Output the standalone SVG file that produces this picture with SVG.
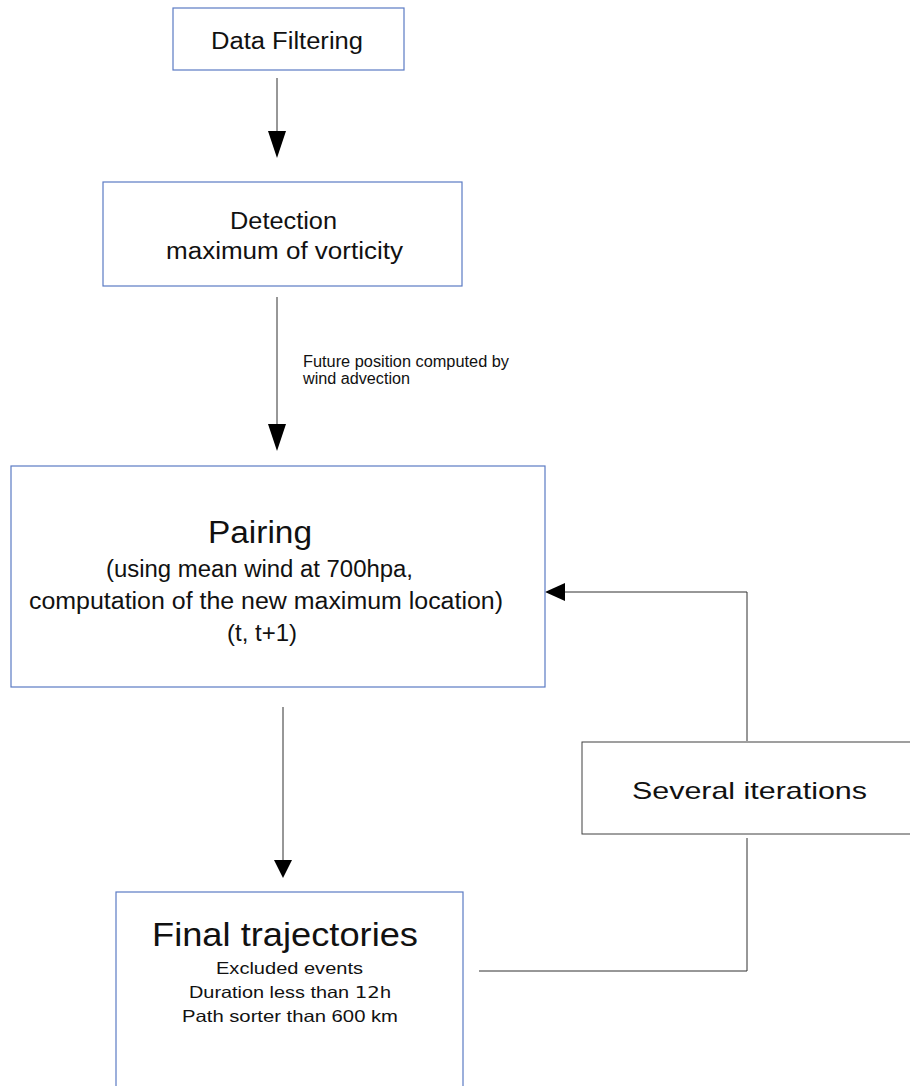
<svg xmlns="http://www.w3.org/2000/svg" width="910" height="1086" viewBox="0 0 910 1086">
<defs>
<style>
.box{fill:#fff;stroke:#5b7bc4;stroke-width:1.2}
.gbox{fill:#fff;stroke:#404040;stroke-width:1}
.t{font-family:"Liberation Sans",Arial,sans-serif;fill:#111}
.c{stroke:#303030;stroke-width:1;fill:none}
</style>
</defs>
<rect width="910" height="1086" fill="#fff"/>
<g id="connectors">
<line class="c" x1="277" y1="78" x2="277" y2="131"/>
<polygon points="268,131 286,131 277,158" fill="#000"/>
<line class="c" x1="277" y1="297" x2="277" y2="424"/>
<polygon points="268,424 286,424 277,451" fill="#000"/>
<text class="t" x="303" y="367" font-size="16" textLength="206" lengthAdjust="spacingAndGlyphs">Future position computed by</text>
<text class="t" x="303" y="384" font-size="16" textLength="107" lengthAdjust="spacingAndGlyphs">wind advection</text>
<polyline class="c" points="747,741 747,592 565,592"/>
<polygon points="565,583 565,601 545,592" fill="#000"/>
<line class="c" x1="283" y1="707" x2="283" y2="860"/>
<polygon points="274,860 292,860 283,878" fill="#000"/>
<polyline class="c" points="747,838 747,971 479,971"/>
</g>
<g id="data-filtering">
<rect class="box" x="173" y="8" width="231" height="62"/>
<text class="t" x="211" y="49" font-size="23" textLength="152" lengthAdjust="spacingAndGlyphs">Data Filtering</text>
</g>
<g id="detection">
<rect class="box" x="103" y="182" width="359" height="104"/>
<text class="t" x="230" y="228.5" font-size="23.3" textLength="107" lengthAdjust="spacingAndGlyphs">Detection</text>
<text class="t" x="166" y="259" font-size="23.5" textLength="237" lengthAdjust="spacingAndGlyphs">maximum of vorticity</text>
</g>
<g id="pairing">
<rect class="box" x="11" y="466" width="534" height="221"/>
<text class="t" x="208" y="543" font-size="31" textLength="104" lengthAdjust="spacingAndGlyphs">Pairing</text>
<text class="t" x="106" y="577" font-size="23.5" textLength="307" lengthAdjust="spacingAndGlyphs">(using mean wind at 700hpa,</text>
<text class="t" x="29" y="609" font-size="23.5" textLength="474" lengthAdjust="spacingAndGlyphs">computation of the new maximum location)</text>
<text class="t" x="227" y="641" font-size="24" textLength="70" lengthAdjust="spacingAndGlyphs">(t, t+1)</text>
</g>
<g id="several-iterations">
<rect class="gbox" x="582" y="742" width="340" height="92"/>
<text class="t" x="632" y="799" font-size="24" textLength="235" lengthAdjust="spacingAndGlyphs">Several iterations</text>
</g>
<g id="final-trajectories">
<rect class="box" x="116" y="892" width="347" height="200"/>
<text class="t" x="152" y="945.5" font-size="33.5" textLength="266" lengthAdjust="spacingAndGlyphs">Final trajectories</text>
<text class="t" x="216" y="974" font-size="16.5" textLength="147" lengthAdjust="spacingAndGlyphs">Excluded events</text>
<text class="t" x="189" y="998" font-size="16.5" textLength="202" lengthAdjust="spacingAndGlyphs">Duration less than <tspan font-family="DejaVu Sans">12</tspan>h</text>
<text class="t" x="182" y="1022" font-size="16.5" textLength="216" lengthAdjust="spacingAndGlyphs">Path sorter than 600 km</text>
</g>
</svg>
